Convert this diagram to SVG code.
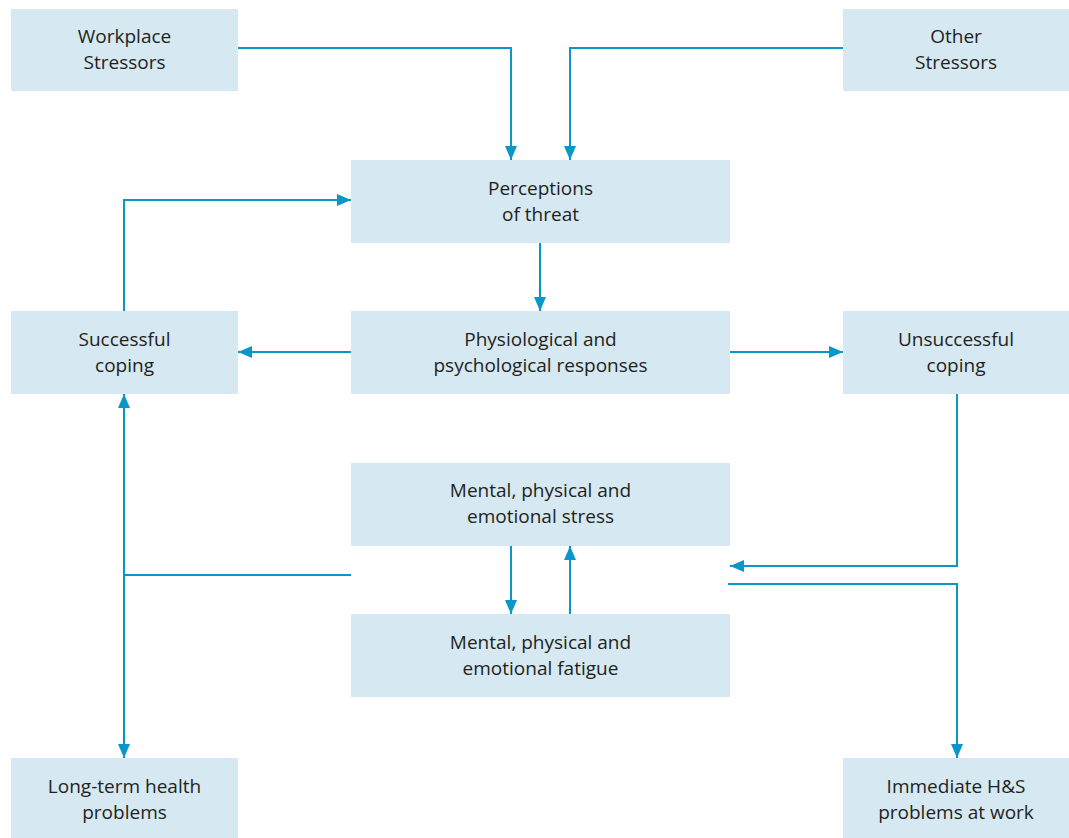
<svg xmlns="http://www.w3.org/2000/svg" width="1069" height="838" viewBox="0 0 1069 838">
  <style>
    .box { fill: #d6e8f2; }
    .lbl { font-family: "Open Sans", "Noto Sans", sans-serif; font-size: 19px; fill: #231f20; text-anchor: middle; }
    .link { fill: none; stroke: #0a96c8; stroke-width: 2; }
  </style>
  <defs>
    <marker id="arr" viewBox="0 0 14 12" refX="14" refY="6" markerWidth="14" markerHeight="12" markerUnits="userSpaceOnUse" orient="auto-start-reverse">
      <path d="M0,0 L14,6 L0,12 Z" fill="#0a96c8"/>
    </marker>
  </defs>
  <rect width="1069" height="838" fill="#ffffff"/>

  <g id="workplace">
    <rect class="box" x="11" y="9" width="227" height="82"/>
    <text class="lbl" x="124.500" y="43">Workplace</text>
    <text class="lbl" x="124.500" y="69">Stressors</text>
  </g>
  <g id="other">
    <rect class="box" x="843" y="9" width="226" height="82"/>
    <text class="lbl" x="956" y="43">Other</text>
    <text class="lbl" x="956" y="69">Stressors</text>
  </g>
  <g id="perceptions">
    <rect class="box" x="351" y="160" width="379" height="83"/>
    <text class="lbl" x="540.500" y="195">Perceptions</text>
    <text class="lbl" x="540.500" y="221">of threat</text>
  </g>
  <g id="successful">
    <rect class="box" x="11" y="311" width="227" height="83"/>
    <text class="lbl" x="124.500" y="346">Successful</text>
    <text class="lbl" x="124.500" y="372">coping</text>
  </g>
  <g id="responses">
    <rect class="box" x="351" y="311" width="379" height="83"/>
    <text class="lbl" x="540.500" y="346">Physiological and</text>
    <text class="lbl" x="540.500" y="372">psychological responses</text>
  </g>
  <g id="unsuccessful">
    <rect class="box" x="843" y="311" width="226" height="83"/>
    <text class="lbl" x="956" y="346">Unsuccessful</text>
    <text class="lbl" x="956" y="372">coping</text>
  </g>
  <g id="stress">
    <rect class="box" x="351" y="463" width="379" height="83"/>
    <text class="lbl" x="540.500" y="497">Mental, physical and</text>
    <text class="lbl" x="540.500" y="523">emotional stress</text>
  </g>
  <g id="fatigue">
    <rect class="box" x="351" y="614" width="379" height="83"/>
    <text class="lbl" x="540.500" y="649">Mental, physical and</text>
    <text class="lbl" x="540.500" y="675">emotional fatigue</text>
  </g>
  <g id="longterm">
    <rect class="box" x="11" y="758" width="227" height="80"/>
    <text class="lbl" x="124.500" y="793">Long-term health</text>
    <text class="lbl" x="124.500" y="819">problems</text>
  </g>
  <g id="immediate">
    <rect class="box" x="843" y="758" width="226" height="80"/>
    <text class="lbl" x="956" y="793">Immediate H&amp;S</text>
    <text class="lbl" x="956" y="819">problems at work</text>
  </g>

  <g id="connectors">
    <path class="link" d="M238,48 H511 V160" marker-end="url(#arr)"/>
    <path class="link" d="M843,48 H570 V160" marker-end="url(#arr)"/>
    <path class="link" d="M124,311 V200 H351" marker-end="url(#arr)"/>
    <path class="link" d="M540,243 V311" marker-end="url(#arr)"/>
    <path class="link" d="M351,352 H238" marker-end="url(#arr)"/>
    <path class="link" d="M730,352 H843" marker-end="url(#arr)"/>
    <path class="link" d="M957,394 V566 H730" marker-end="url(#arr)"/>
    <path class="link" d="M728,584 H957 V758" marker-end="url(#arr)"/>
    <path class="link" d="M351,575 H124"/>
    <path class="link" d="M124,394 V758" marker-start="url(#arr)" marker-end="url(#arr)"/>
    <path class="link" d="M511,546 V614" marker-end="url(#arr)"/>
    <path class="link" d="M570,614 V546" marker-end="url(#arr)"/>
  </g>
</svg>
